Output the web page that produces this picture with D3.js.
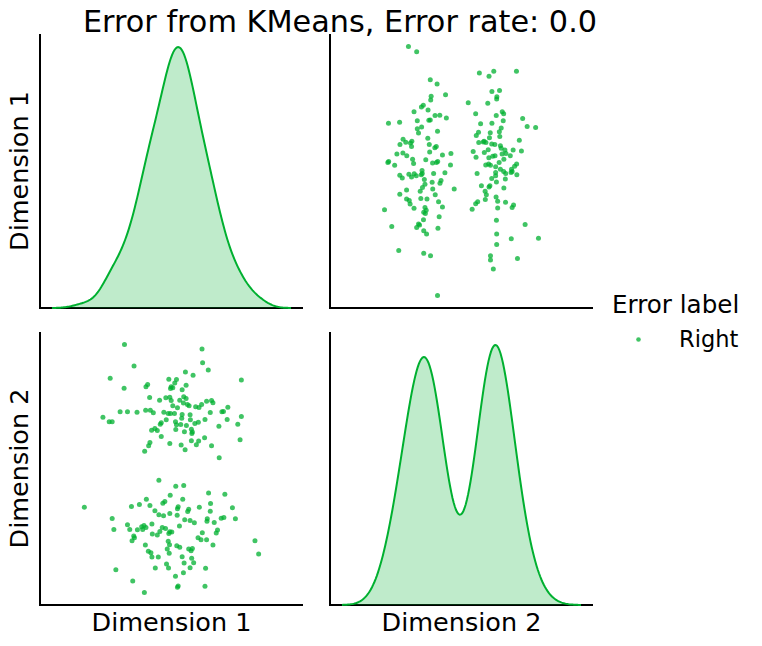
<!DOCTYPE html>
<html>
<head>
<meta charset="utf-8">
<script src="https://cdn.jsdelivr.net/npm/d3@7"></script>
<style>
  body { margin: 0; background: #fff; }
  text { font-family: "DejaVu Sans", sans-serif; fill: #000; }
</style>
</head>
<body>
<div id="pairplot"></div>
<script>
const title = 'Error from KMeans, Error rate: 0.0';
const dimNames = ['Dimension 1', 'Dimension 2'];
const legendTitle = 'Error label';
const legendLabels = ['Right'];

// upper cluster then lower cluster
const dim1 = [
  -4.63, -3.67, -6.07, -4.67, -2.47, -2.30, -2.10, -6.80, -6.17, -5.87, -5.07, -4.33, -3.37, -2.50, -2.03, -1.73, -1.90, -1.57, -2.07, -2.20, -2.60,
  -0.17, 0.60, 0.43, 0.07, 0.23, 0.00, 1.17, 1.57, -0.47, -0.07, 0.07, -1.10, 0.93, 1.33, 1.57, 1.70, 1.87, 0.23, 0.70, -0.67, -0.23, 0.00, 0.40,
  1.17, 1.13, 1.97, 2.00, -1.03, -0.93, -0.43, 0.50, 0.60, 1.03, 1.60, -1.33, 0.53, 1.40, 2.10, 2.20, -0.93, -0.07, 1.07, 1.47, 2.10, 1.30, 2.15, 2.45,
  3.17, 3.23, 3.80, 2.27, 1.50, 7.13, 2.53, 2.87, 3.13, 3.63, 4.13, 4.27, 5.77, 5.17, 5.33, 4.00, 7.13, 2.80, 3.47, 5.70, 4.87, 6.77, 3.43, 7.00,
  2.83, 2.60, 4.13, 4.90,
  -8.67, -3.93, -3.13, -2.43, -2.07, -1.57, -5.87, -5.70, -4.33, -4.10, -3.33, -2.90, -2.67, -2.47, -2.80, -1.87, -3.70, -3.63, -3.87, -1.83,
  -2.53, -2.23, -1.97, -1.87, -1.53, -5.50, -3.80, -2.63,
  -1.17, 0.53, 1.33, -0.03, -0.57, -0.77, 0.77, 0.70, -1.17, -0.70, -0.07, 0.67, 1.83, 1.73, 1.43, 1.97, 2.40, 0.90, -0.83, -0.50, -1.07, -1.33,
  -0.07, 0.13, -0.17, -0.23, -0.10, -0.33, -0.13, 0.63, 0.93, 1.83, 2.07, 1.17, 1.37, -1.23, 2.13, 2.33, -0.40, -0.20, 1.97, 0.50, 1.30, 0.77,
  0.70, 1.23, 2.20,
  3.83, 5.47, 2.90, 4.03, 4.00, 6.23, 3.70, 3.67, 4.40, 5.10, 5.37, 6.53, 4.73, 4.60, 3.20, 2.77, 3.07, 3.63, 4.27, 8.50, 8.87, 3.53, 3.47
];
const dim2 = [
  12.53, 10.37, 9.13, 8.13, 8.27, 8.50, 7.20, 5.23, 4.77, 4.77, 5.77, 5.77, 5.73, 5.93, 5.93, 5.67, 3.93, 4.10, 2.70, 2.37, 1.80,
  9.03, 9.00, 8.67, 8.27, 8.17, 8.10, 7.97, 8.43, 7.17, 7.23, 6.90, 6.93, 6.93, 7.27, 7.10, 6.50, 6.37, 6.37, 6.17, 5.73, 5.60, 5.60, 5.60,
  5.50, 5.13, 5.47, 4.97, 4.53, 4.67, 4.97, 4.77, 4.47, 4.50, 4.40, 3.90, 4.00, 3.77, 4.03, 3.73, 3.30, 2.60, 2.43, 1.97, 2.87, 6.65, 3.60, 4.60,
  12.07, 10.70, 9.97, 9.43, 9.77, 8.97, 6.27, 6.20, 6.50, 6.83, 6.90, 6.67, 6.23, 5.77, 5.80, 5.70, 5.30, 4.73, 5.00, 5.00, 4.33, 4.53, 3.17, 2.97,
  2.83, 2.47, 2.37, 1.17,
  -3.80, -3.73, -3.53, -3.00, -3.63, -4.17, -4.93, -6.03, -5.57, -6.03, -6.07, -5.77, -5.63, -5.83, -6.03, -5.50, -6.70, -6.87, -7.17, -6.50,
  -7.60, -8.23, -8.37, -8.80, -9.90, -10.07, -11.20, -12.37,
  -1.10, -1.70, -1.63, -2.60, -3.23, -3.40, -3.77, -3.97, -4.57, -4.67, -4.43, -4.60, -4.00, -4.23, -5.07, -5.13, -5.37, -5.70, -5.83, -5.93, -6.23, -6.60,
  -6.27, -6.30, -6.43, -7.23, -7.57, -8.00, -8.43, -7.67, -7.83, -8.00, -8.17, -8.77, -9.40, -8.80, -8.93, -9.37, -9.50, -9.90, -9.87, -10.73, -10.37, -11.70,
  -11.83, -3.00, -7.95,
  -2.37, -2.50, -3.80, -3.43, -4.20, -3.87, -4.97, -5.20, -5.33, -4.90, -4.83, -4.97, -6.10, -6.40, -6.37, -6.87, -7.07, -7.07, -7.60, -7.17, -8.50, -9.93, -11.73
];

const dims = [dim1, dim2];
const points = dim1.map((d, i) => [d, dim2[i]]);

const color = '#00b030';
const w = 762, h = 646;
const cols = [{ x: 40, w: 263 }, { x: 330, w: 263 }];
const rows = [{ y: 34, h: 274 }, { y: 332, h: 273 }];

const pad = ([lo, hi]) => [lo - 0.05 * (hi - lo), hi + 0.05 * (hi - lo)];

// gaussian kde with scott bandwidth, cut = 3 like seaborn
const kde = (values) => {
    const n = values.length;
    const bw = d3.deviation(values) * Math.pow(n, -0.2);
    const lo = d3.min(values) - 3 * bw, hi = d3.max(values) + 3 * bw;
    const k = 1 / (n * bw * Math.sqrt(2 * Math.PI));
    return d3.range(200).map((i) => {
        const x = lo + (hi - lo) * i / 199;
        return [x, k * d3.sum(values, (v) => Math.exp(-0.5 * ((x - v) / bw) ** 2))];
    });
};

const curves = dims.map(kde);

const scaleX = curves.map((c, j) =>
    d3.scaleLinear()
        .domain(pad([c[0][0], c[c.length - 1][0]]))
        .range([cols[j].x, cols[j].x + cols[j].w]));

const scaleY = dims.map((vals, i) =>
    d3.scaleLinear()
        .domain(pad(d3.extent(vals)))
        .range([rows[i].y + rows[i].h, rows[i].y]));

const svg = d3.select('#pairplot')
    .append('svg')
    .attr('width', w)
    .attr('height', h);

// spines, no ticks
for (let i = 0; i < 2; i++) {
    for (let j = 0; j < 2; j++) {
        const g = svg.append('g');
        g.append('line')
            .attr('x1', cols[j].x).attr('x2', cols[j].x)
            .attr('y1', rows[i].y).attr('y2', rows[i].y + rows[i].h)
            .attr('stroke', '#000').attr('stroke-width', 2);
        g.append('line')
            .attr('x1', cols[j].x - 1).attr('x2', cols[j].x + cols[j].w)
            .attr('y1', rows[i].y + rows[i].h).attr('y2', rows[i].y + rows[i].h)
            .attr('stroke', '#000').attr('stroke-width', 2);
    }
}

// diagonal kdes
curves.forEach((c, k) => {
    const dy = d3.scaleLinear()
        .domain([0, d3.max(c, (d) => d[1]) * 1.05])
        .range([rows[k].y + rows[k].h, rows[k].y]);

    svg.append('path')
        .datum(c)
        .attr('fill', color)
        .attr('fill-opacity', 0.25)
        .attr('d', d3.area().x((d) => scaleX[k](d[0])).y0(dy(0)).y1((d) => dy(d[1])));

    svg.append('path')
        .datum(c)
        .attr('fill', 'none')
        .attr('stroke', color)
        .attr('stroke-width', 2)
        .attr('d', d3.line().x((d) => scaleX[k](d[0])).y((d) => dy(d[1])));
});

// off-diagonal scatters: row i shows dim i on y, column j shows dim j on x
[[0, 1], [1, 0]].forEach(([i, j]) => {
    svg.append('g')
        .selectAll('circle')
        .data(points)
        .enter()
        .append('circle')
        .attr('cx', (d) => scaleX[j](d[j]))
        .attr('cy', (d) => scaleY[i](d[i]))
        .attr('r', 2.5)
        .attr('fill', color)
        .attr('fill-opacity', 0.75);
});

// labels
svg.append('text')
    .attr('x', 340)
    .attr('y', 32)
    .attr('text-anchor', 'middle')
    .style('font-size', '30.3px')
    .text(title);

dimNames.forEach((name, k) => {
    svg.append('text')
        .attr('x', cols[k].x + cols[k].w / 2)
        .attr('y', 631)
        .attr('text-anchor', 'middle')
        .style('font-size', '25.5px')
        .text(name);

    svg.append('text')
        .attr('transform', `translate(28, ${rows[k].y + rows[k].h / 2}) rotate(-90)`)
        .attr('text-anchor', 'middle')
        .style('font-size', '25.5px')
        .text(name);
});

// legend
const legend = svg.append('g').attr('id', 'legend');

legend.append('text')
    .attr('x', 612)
    .attr('y', 313)
    .style('font-size', '24.6px')
    .text(legendTitle);

legendLabels.forEach((label, i) => {
    legend.append('circle')
        .attr('cx', 638.5)
        .attr('cy', 339.5 + i * 34)
        .attr('r', 2.3)
        .attr('fill', color)
        .attr('fill-opacity', 0.75);
    legend.append('text')
        .attr('x', 679)
        .attr('y', 347 + i * 34)
        .style('font-size', '22.5px')
        .text(label);
});
</script>
</body>
</html>
